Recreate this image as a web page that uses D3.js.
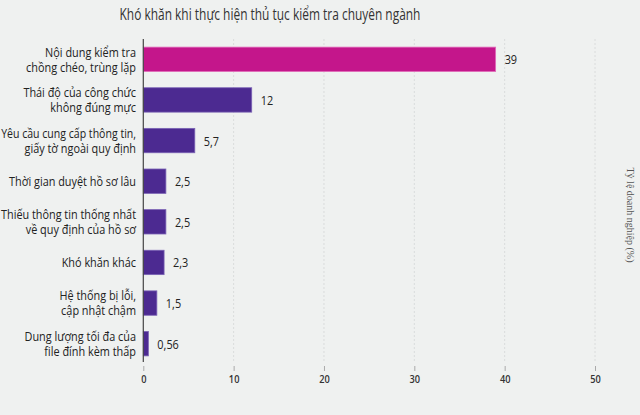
<!DOCTYPE html>
<html><head><meta charset="utf-8">
<script src="https://cdn.jsdelivr.net/npm/d3@7"></script>
<style>
html,body{margin:0;padding:0;background:#eff1f0;}
svg{display:block;}
</style></head>
<body>
<svg id="c" width="640" height="415"></svg>
<script>
const categories = [
  ["Nội dung kiểm tra","chồng chéo, trùng lặp"],
  ["Thái độ của công chức","không đúng mực"],
  ["Yêu cầu cung cấp thông tin,","giấy tờ ngoài quy định"],
  ["Thời gian duyệt hồ sơ lâu"],
  ["Thiếu thông tin thống nhất","về quy định của hồ sơ"],
  ["Khó khăn khác"],
  ["Hệ thống bị lỗi,","cập nhật chậm"],
  ["Dung lượng tối đa của","file đính kèm thấp"]
];
const values = [39, 12, 5.7, 2.5, 2.5, 2.3, 1.5, 0.56];
const valueLabels = ["39","12","5,7","2,5","2,5","2,3","1,5","0,56"];
const xTicks = [0,10,20,30,40,50];
const title = "Khó khăn khi thực hiện thủ tục kiểm tra chuyên ngành";
const axisTitle = "Tỷ lệ doanh nghiệp (%)";

const svg = d3.select("#c");
const font = "'Open Sans',sans-serif";
const x = d3.scaleLinear().domain([0,50]).range([143.3,595]);
const y = d3.scaleBand().domain(d3.range(values.length)).range([39,364]).paddingInner(0.4).paddingOuter(0.2);

function measure(str, size, weight){
  const t = svg.append("text").attr("font-family",font).attr("font-size",size)
    .attr("font-weight",weight||"normal").text(str);
  const w = t.node().getComputedTextLength();
  t.remove();
  return w;
}
const LS = 13;
const sx = 127 / measure("Thời gian duyệt hồ sơ lâu", LS);
const TS = 16;
const tsx = 301 / measure(title, TS);
const labelRight = 136;

// title
svg.append("g").attr("transform",`translate(270,20) scale(${tsx},1)`)
  .append("text").attr("text-anchor","middle")
  .attr("font-family",font).attr("font-size",TS).attr("fill","#333").text(title);

// gridlines
svg.append("g").selectAll("line").data(xTicks.filter(d=>d>0)).join("line")
  .attr("x1",d=>x(d)).attr("x2",d=>x(d)).attr("y1",39).attr("y2",362)
  .attr("stroke","#dadcdc").attr("stroke-width",1).attr("stroke-dasharray","2,2");

// bottom axis
const xa = svg.append("g").attr("transform","translate(0,366)")
  .call(d3.axisBottom(x).tickValues(xTicks).tickSize(5).tickPadding(4).tickFormat(d3.format("d")));
xa.select(".domain").remove();
xa.selectAll(".tick line").attr("stroke","#aaa");
xa.selectAll(".tick text").attr("font-family",font).attr("font-size",11).attr("font-weight","600").attr("fill","#333")
  .attr("transform",`scale(${sx},1)`);

// bars
svg.append("g").selectAll("rect").data(values).join("rect")
  .attr("x",x(0)).attr("y",(d,i)=>y(i)).attr("width",d=>x(d)-x(0)).attr("height",y.bandwidth())
  .attr("fill",(d,i)=>i===0?"#c4168b":"#4c2a91")
  .attr("stroke",(d,i)=>i===0?"#e06ab8":"#7a62b4").attr("stroke-width",0.8);

// y axis line
svg.append("line").attr("x1",x(0)).attr("x2",x(0)).attr("y1",39).attr("y2",362)
  .attr("stroke","#444").attr("stroke-width",1.2);

// category labels (one text per line, squeezed to stay inside the left edge)
categories.forEach((lines,i)=>{
  const cy = y(i)+y.bandwidth()/2;
  const lh = 15;
  lines.forEach((ln,j)=>{
    const w = measure(ln, LS);
    const s = Math.min(sx, (labelRight-1)/w);
    const yy = cy + (j-(lines.length-1)/2)*lh + 4.7;
    svg.append("g").attr("transform",`translate(${labelRight},${yy}) scale(${s},1)`)
      .append("text").attr("text-anchor","end").attr("font-family",font)
      .attr("font-size",LS).attr("fill","#222").text(ln);
  });
});

// value labels
values.forEach((d,i)=>{
  svg.append("g").attr("transform",`translate(${x(d)+9},${y(i)+y.bandwidth()/2+5}) scale(${sx},1)`)
    .append("text").attr("font-family",font).attr("font-size",LS).attr("fill","#222")
    .text(valueLabels[i]);
});

// right axis title
svg.append("text").attr("transform","translate(627,215) rotate(90)").attr("text-anchor","middle")
  .attr("font-family","'Liberation Serif',serif").attr("font-size",10).attr("fill","#555").text(axisTitle);
</script>
</body></html>
